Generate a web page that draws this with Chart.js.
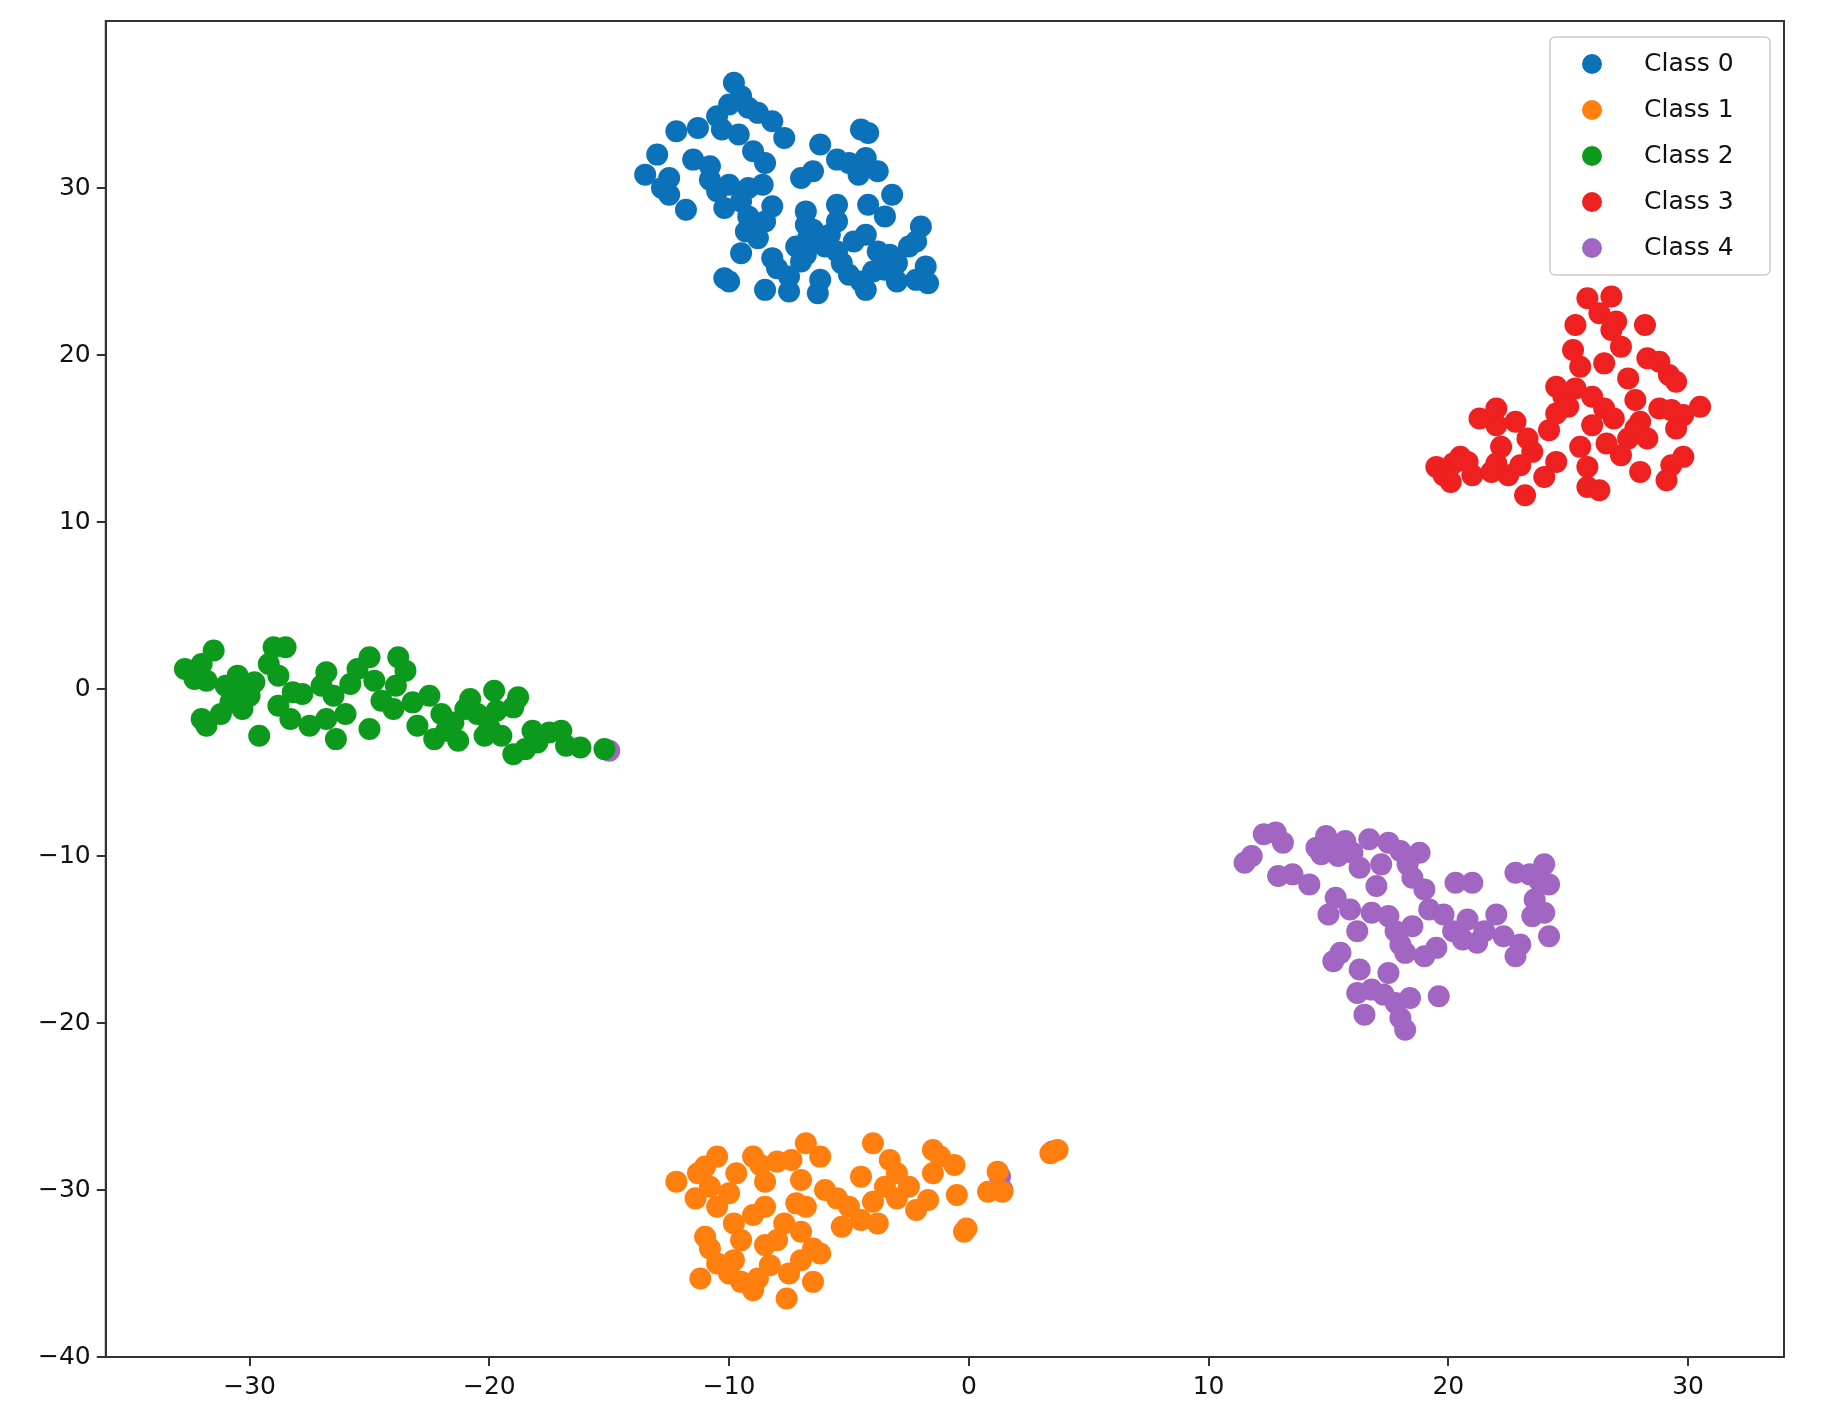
<!DOCTYPE html>
<html>
<head>
<meta charset="utf-8">
<script src="https://cdn.jsdelivr.net/npm/chart.js@4/dist/chart.umd.min.js"></script>
<style>
  html, body { margin: 0; padding: 0; background: #fff; }
  #wrap { width: 1828px; height: 1428px; }
</style>
</head>
<body>
<div id="wrap"><canvas id="myChart" width="1828" height="1428"></canvas></div>
<script>
// t-SNE style embedding, 5 classes
const classNames = ["Class 0", "Class 1", "Class 2", "Class 3", "Class 4"];
const classColors = ["#0b72b9", "#ff7f0e", "#0c9a1c", "#ee2020", "#a066c2"];
const xTicks = [-30, -20, -10, 0, 10, 20, 30];
const yTicks = [-40, -30, -20, -10, 0, 10, 20, 30];

const class0 = [[-9.8,36.3],[-9.5,35.5],[-10,35],[-9.2,34.8],[-10.5,34.3],[-8.8,34.5],[-8.2,34],[-11.3,33.6],[-12.2,33.4],[-10.3,33.5],[-9.6,33.2],[-7.7,33],[-4.5,33.5],[-4.2,33.3],[-6.2,32.6],[-13,32],[-11.5,31.7],[-10.8,31.3],[-9,32.2],[-8.5,31.5],[-5.5,31.7],[-5,31.5],[-4.3,31.8],[-3.8,31],[-4.6,30.8],[-6.5,31],[-7,30.6],[-13.5,30.8],[-12.5,30.6],[-12.8,30],[-12.5,29.6],[-11.8,28.7],[-10.5,29.8],[-10,30.2],[-9.2,30],[-8.6,30.2],[-9.5,29.2],[-10.2,28.8],[-8.2,28.9],[-6.8,28.6],[-5.5,29],[-4.2,29],[-3.2,29.6],[-3.5,28.3],[-5.5,28],[-6.8,27.8],[-8.5,28],[-9.3,27.4],[-8.8,27],[-9.5,26.1],[-8.2,25.8],[-7.2,26.5],[-6.7,27],[-6.5,27.5],[-5.8,27.2],[-6,26.5],[-5.5,26.2],[-4.8,26.8],[-4.3,27.2],[-3.8,26.2],[-3.3,26],[-2.5,26.5],[-2,27.7],[-2.2,26.8],[-1.8,25.3],[-1.7,24.3],[-2.2,24.5],[-3,24.4],[-3.5,25.1],[-4.5,24.4],[-4.3,23.9],[-5,24.8],[-6.2,24.5],[-6.3,23.7],[-7.5,23.8],[-8.5,23.9],[-7.5,24.7],[-7,25.6],[-6.8,26],[-10.2,24.6],[-10,24.4],[-5.3,25.5],[-4,25],[-3,25.5],[-8,25.2],[-9.2,28.3],[-10.8,30.5]];
const class1 = [[-12.2,-29.5],[-11.3,-29],[-11,-28.6],[-10.5,-28],[-10.8,-29.8],[-10,-30.2],[-11.4,-30.5],[-10.5,-31],[-11,-32.8],[-10.8,-33.5],[-11.2,-35.3],[-10.5,-34.4],[-10,-35],[-9.5,-35.5],[-9,-36],[-8.8,-35.3],[-8.3,-34.5],[-7.6,-36.5],[-7.5,-35],[-6.5,-35.5],[-7,-34.2],[-8.5,-33.3],[-9.5,-33],[-9.8,-32],[-9,-31.5],[-8.5,-31],[-7.7,-32],[-7,-32.5],[-6.5,-33.5],[-6.2,-33.8],[-9,-28],[-8.7,-28.5],[-8,-28.3],[-7.4,-28.2],[-6.8,-27.2],[-6.2,-28],[-7,-29.4],[-7.2,-30.8],[-6,-30],[-5.5,-30.5],[-5,-31],[-4.5,-31.8],[-4,-30.7],[-4.5,-29.2],[-4,-27.2],[-3.3,-28.2],[-3,-29],[-3.5,-29.8],[-3,-30.5],[-2.5,-29.8],[-2.2,-31.2],[-1.7,-30.6],[-1.5,-29],[-1.2,-28],[-1.5,-27.6],[-0.6,-28.5],[-0.5,-30.3],[-0.2,-32.5],[-0.1,-32.3],[0.8,-30.1],[1.2,-28.9],[1.4,-30.1],[3.4,-27.8],[3.7,-27.6],[-8.5,-29.5],[-9.7,-29],[-5.3,-32.2],[-3.8,-32],[-9.8,-34.2],[-8,-33],[-6.8,-31]];
const class2 = [[-32.7,1.2],[-32.3,0.6],[-32,1.5],[-31.5,2.3],[-31.8,0.5],[-31,0.2],[-30.5,-0.2],[-30.8,-0.8],[-31.2,-1.5],[-32,-1.8],[-31.8,-2.2],[-30.3,-1.2],[-30,-0.4],[-29.8,0.4],[-29.2,1.5],[-29,2.5],[-28.5,2.5],[-28.8,0.8],[-28.2,-0.2],[-28.8,-1],[-29.6,-2.8],[-28.3,-1.8],[-27.8,-0.3],[-27.5,-2.2],[-26.8,-1.8],[-26.5,-0.4],[-26,-1.5],[-26.4,-3],[-25.8,0.3],[-25.5,1.2],[-25,1.9],[-24.8,0.5],[-24.5,-0.7],[-25,-2.4],[-24,-1.2],[-23.8,1.9],[-23.5,1.1],[-23.2,-0.8],[-23,-2.2],[-22.5,-0.4],[-22,-1.5],[-22.3,-3],[-21.8,-2.5],[-21.3,-3.1],[-21,-1.2],[-20.8,-0.6],[-20.5,-1.5],[-20,-2.3],[-19.7,-1.3],[-19.5,-2.8],[-19,-1.1],[-19.8,-0.1],[-18.8,-0.5],[-18.5,-3.6],[-19,-3.9],[-18.2,-2.5],[-18,-3.2],[-17.5,-2.6],[-16.8,-3.4],[-16.2,-3.5],[-17,-2.5],[-15.2,-3.6],[-26.8,1],[-27,0.2],[-30.5,0.8],[-23.9,0.2],[-21.5,-2],[-20.2,-2.8]];
const class3 = [[19.5,13.3],[19.8,12.8],[20.2,13.5],[20.5,13.9],[20.1,12.4],[21,12.8],[20.8,13.6],[21.3,16.2],[22,16.8],[22,15.8],[22.2,14.5],[22,13.5],[22.5,12.8],[23,13.4],[22.8,16],[23.5,14.2],[23.2,11.6],[24,12.7],[24.5,13.6],[24.5,16.5],[24.8,17.5],[24.5,18.1],[25.3,18],[25,16.9],[25.5,14.5],[25.8,13.3],[25.8,12.1],[26.3,11.9],[26,15.8],[26.5,16.8],[26,17.5],[25.5,19.3],[25.2,20.3],[25.3,21.8],[25.8,23.4],[26.3,22.5],[26.8,23.5],[27,22],[26.8,21.5],[27.2,20.5],[26.5,19.5],[27.5,18.6],[27.8,17.3],[28,16],[27.5,15],[27.2,14],[27.8,15.6],[28.3,15],[28.8,16.8],[28.3,19.8],[28.8,19.6],[28.2,21.8],[29.2,18.8],[29.5,18.4],[29.3,16.7],[29.8,16.4],[29.5,15.6],[29.3,13.4],[29.8,13.9],[29.1,12.5],[28,13],[30.5,16.9],[23.3,15],[24.2,15.5],[21.8,13],[26.6,14.7],[26.9,16.2]];
const class4 = [[11.5,-10.4],[11.8,-10],[12.3,-8.7],[12.8,-8.6],[13.1,-9.2],[13.5,-11.1],[12.9,-11.2],[14.2,-11.7],[14.5,-9.5],[14.9,-8.8],[15.2,-9.3],[15.7,-9.1],[15.4,-10],[16,-9.8],[16.3,-10.7],[16.7,-9],[17.2,-10.5],[17,-11.8],[17.5,-9.2],[18,-9.7],[18.3,-10.5],[18.8,-9.8],[18.5,-11.3],[19,-12],[15.3,-12.5],[15,-13.5],[16.2,-14.5],[15.9,-13.2],[16.8,-13.4],[17.5,-13.6],[17.8,-14.5],[18,-15.3],[18.5,-14.2],[18.2,-15.8],[19,-16],[19.5,-15.5],[19.2,-13.2],[19.8,-13.5],[20.2,-14.5],[20.8,-13.8],[21,-11.6],[20.3,-11.6],[21.2,-15.2],[21.5,-14.5],[22,-13.5],[22.3,-14.8],[22.8,-16],[23,-15.3],[23.5,-13.6],[22.8,-11],[23.4,-11.1],[23.8,-11.5],[24,-10.5],[24.2,-11.7],[24,-13.4],[24.2,-14.8],[23.6,-12.6],[15.2,-16.3],[15.5,-15.8],[16.3,-16.8],[16.2,-18.2],[16.8,-18],[16.5,-19.5],[17.3,-18.3],[17.8,-18.8],[18,-19.7],[18.2,-20.4],[18.4,-18.5],[19.6,-18.4],[17.5,-17],[14.7,-9.9],[20.6,-15],[-15,-3.7],[1.3,-29.2],[1.4,-30],[3.5,-27.7]];
const allClasses = [class0, class1, class2, class3, class4];

const axisColor = "#333333";
const tickFont = { family: "DejaVu Sans", size: 25 };

// frame + legend box like matplotlib
const framePlugin = {
  id: "frame",
  afterDraw(chart) {
    const { ctx, chartArea: a } = chart;
    ctx.save();
    ctx.strokeStyle = axisColor;
    ctx.lineWidth = 2;
    ctx.strokeRect(a.left, a.top, a.right - a.left, a.bottom - a.top);

    const w = 220, rowH = 46, h = rowH * classNames.length + 8;
    const x0 = a.right - w - 14, y0 = a.top + 16;
    ctx.fillStyle = "rgba(255,255,255,0.85)";
    ctx.strokeStyle = "#cccccc";
    ctx.lineWidth = 1.5;
    ctx.beginPath();
    ctx.roundRect(x0, y0, w, h, 5);
    ctx.fill();
    ctx.stroke();
    ctx.font = "25px 'DejaVu Sans'";
    ctx.textBaseline = "middle";
    classNames.forEach((name, i) => {
      const cy = y0 + 27 + i * rowH;
      ctx.fillStyle = classColors[i];
      ctx.beginPath();
      ctx.arc(x0 + 42, cy, 10, 0, Math.PI * 2);
      ctx.fill();
      ctx.fillStyle = "#111";
      ctx.fillText(name, x0 + 94, cy);
    });
    ctx.restore();
  }
};

new Chart(document.getElementById("myChart").getContext("2d"), {
  type: "scatter",
  data: {
    datasets: allClasses.map((pts, i) => ({
      label: classNames[i],
      data: pts.map(p => ({ x: p[0], y: p[1] })),
      backgroundColor: classColors[i],
      borderWidth: 0,
      pointRadius: 11,
      pointHoverRadius: 11,
    })),
  },
  options: {
    responsive: false,
    animation: false,
    layout: { padding: { top: 21, right: 44, left: 32, bottom: 20 } },
    plugins: { legend: { display: false }, tooltip: { enabled: false } },
    scales: {
      x: {
        type: "linear",
        min: -36,
        max: 34,
        afterBuildTicks: (s) => { s.ticks = xTicks.map(v => ({ value: v })); },
        ticks: { color: "#111", font: tickFont, padding: 6, callback: v => String(v).replace("-", "\u2212") },
        grid: { drawOnChartArea: false, drawTicks: true, tickLength: 9, color: axisColor, lineWidth: 2 },
        border: { display: true, color: axisColor, width: 2 },
      },
      y: {
        type: "linear",
        min: -40,
        max: 40,
        afterBuildTicks: (s) => { s.ticks = yTicks.map(v => ({ value: v })); },
        ticks: { color: "#111", font: tickFont, padding: 6, callback: v => String(v).replace("-", "\u2212") },
        grid: { drawOnChartArea: false, drawTicks: true, tickLength: 9, color: axisColor, lineWidth: 2 },
        border: { display: true, color: axisColor, width: 2 },
      },
    },
  },
  plugins: [framePlugin],
});
</script>
</body>
</html>
